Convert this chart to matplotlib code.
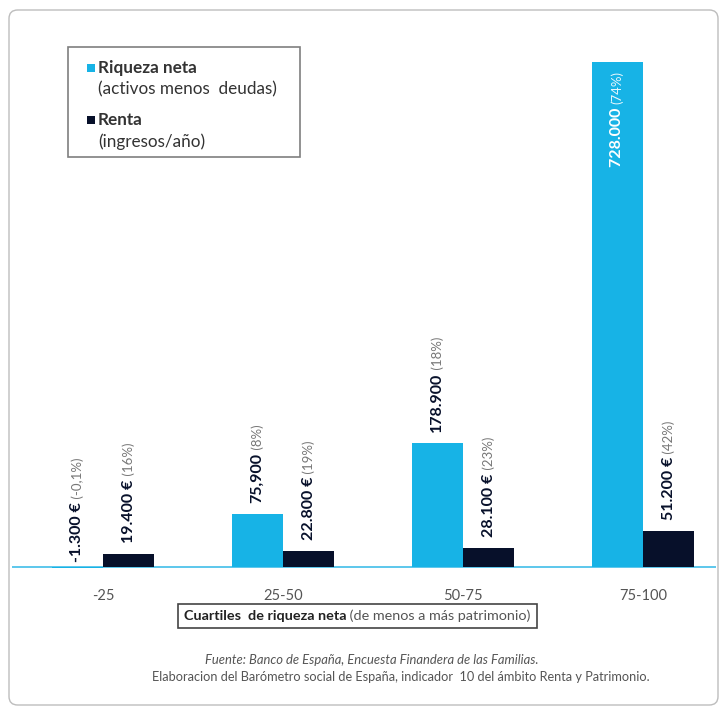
import matplotlib
matplotlib.use("Agg")
import matplotlib.pyplot as plt
from matplotlib.patches import FancyBboxPatch, Rectangle

plt.rcParams['font.family'] = ['Lato', 'DejaVu Sans']

categories = ["-25", "25-50", "50-75", "75-100"]
riqueza = [-1300, 75900, 178900, 728000]
renta = [19400, 22800, 28100, 51200]
riqueza_labels = ["-1.300 €", "75,900", "178.900", "728.000"]
riqueza_pct = ["(-0,1%)", "(8%)", "(18%)", "(74%)"]
renta_labels = ["19.400 €", "22.800 €", "28.100 €", "51.200 €"]
renta_pct = ["(16%)", "(19%)", "(23%)", "(42%)"]

CYAN = "#17B3E6"
DARK = "#07102A"
W, H = 727, 712
fig = plt.figure(figsize=(W / 100, H / 100), dpi=100)
fig.patch.set_facecolor("white")

# outer rounded frame
frame = FancyBboxPatch((9 / W, 1 - 705 / H), 709 / W, 695 / H,
                       boxstyle="round,pad=0,rounding_size=0.012",
                       transform=fig.transFigure, fill=False,
                       edgecolor="#BDBDBD", linewidth=1.0)
fig.patches.append(frame)

ax_left, ax_right, ax_top, ax_bot = 12, 716, 20, 575
ax = fig.add_axes([ax_left / W, 1 - ax_bot / H, (ax_right - ax_left) / W, (ax_bot - ax_top) / H])
ax.set_facecolor("none")
for s in ax.spines.values():
    s.set_visible(False)
ax.set_yticks([])

upp = 1441.6  # data units per pixel
base_px = 567
ax.set_ylim(-(ax_bot - base_px) * upp, (base_px - ax_top) * upp)
ax.set_xlim((ax_left - 103) / 180, (ax_right - 103) / 180)

x = list(range(len(categories)))
w = 0.285
ax.bar([i - w / 2 for i in x], riqueza, width=w, color=CYAN, zorder=2)
ax.bar([i + w / 2 for i in x], renta, width=w, color=DARK, zorder=2)
ax.axhline(0, color="#4FC3EA", linewidth=1.3, zorder=1)

ax.set_xticks(x)
ax.set_xticklabels(categories, fontsize=10.5, color="#555555")
ax.tick_params(axis="x", length=0, pad=10)

off = 11 * upp
fig.canvas.draw()

MAIN_FS = 11.5
PCT_FS = 9.5

def stacked_label(xpos, ybase, main, pct, color_main, color_pct, inside=False):
    if not inside:
        t1 = ax.text(xpos, ybase, main, rotation=90, ha="center", va="bottom",
                     fontsize=MAIN_FS, fontweight="bold", color=color_main, zorder=3)
        ax.annotate(" " + pct, xy=(0.5, 1.0), xycoords=t1, rotation=90,
                    ha="center", va="bottom", fontsize=PCT_FS, color=color_pct, zorder=3)
    else:
        t1 = ax.text(xpos, ybase, pct, rotation=90, ha="center", va="top",
                     fontsize=PCT_FS, color=color_pct, zorder=3)
        ax.annotate(main + " ", xy=(0.5, 0.0), xycoords=t1, rotation=90,
                    ha="center", va="top", fontsize=MAIN_FS, fontweight="bold",
                    color=color_main, zorder=3)

for i in x:
    rv = riqueza[i]
    if rv > 600000:
        stacked_label(i - w / 2, rv - 9 * upp, riqueza_labels[i], riqueza_pct[i], "white", "#E8F7FD", inside=True)
    else:
        yb = max(rv, 0) + (off if rv > 0 else 5 * upp)
        stacked_label(i - w / 2, yb, riqueza_labels[i], riqueza_pct[i], DARK, "#777777")
    stacked_label(i + w / 2, renta[i] + off, renta_labels[i], renta_pct[i], DARK, "#777777")

# legend box
fig.patches.append(Rectangle((68 / W, 1 - 157 / H), 232 / W, 110 / H, transform=fig.transFigure,
                             fill=False, edgecolor="#7F7F7F", linewidth=1.2))
fig.patches.append(Rectangle((87 / W, 1 - 72 / H), 8 / W, 8 / H, transform=fig.transFigure,
                             facecolor=CYAN, edgecolor="none"))
fig.patches.append(Rectangle((87 / W, 1 - 124 / H), 8 / W, 8 / H, transform=fig.transFigure,
                             facecolor=DARK, edgecolor="none"))
LG_FS = 12.3
fig.text(98 / W, 1 - 68 / H, "Riqueza neta", fontsize=LG_FS, fontweight="bold", color="#333333", va="center")
fig.text(98 / W, 1 - 89 / H, "(activos menos  deudas)", fontsize=LG_FS, color="#333333", va="center")
fig.text(98 / W, 1 - 120 / H, "Renta", fontsize=LG_FS, fontweight="bold", color="#333333", va="center")
fig.text(98 / W, 1 - 142 / H, "(ingresos/año)", fontsize=LG_FS, color="#333333", va="center")

# x axis label box
fig.patches.append(Rectangle((178 / W, 1 - 628 / H), 359 / W, 24 / H, transform=fig.transFigure,
                             fill=False, edgecolor="#444444", linewidth=1.2))
tl = fig.text(184 / W, 1 - 616 / H, "Cuartiles  de riqueza neta", fontsize=10.4, fontweight="bold",
              color="#222222", va="center")
fig.canvas.draw()
ax.annotate(" (de menos a más patrimonio)", xy=(1.0, 0.5), xycoords=tl, ha="left", va="center",
            fontsize=10.4, color="#555555", annotation_clip=False)

# footer
fig.text(372 / W, 1 - 660 / H, "Fuente: Banco de España, Encuesta Finandera de las Familias.",
         fontsize=9.4, style="italic", color="#555555", ha="center", va="center")
fig.text(401 / W, 1 - 677 / H,
         "Elaboracion del Barómetro social de España, indicador  10 del ámbito Renta y Patrimonio.",
         fontsize=9.2, color="#555555", ha="center", va="center")

fig.savefig("out.png", dpi=100, facecolor="white")
